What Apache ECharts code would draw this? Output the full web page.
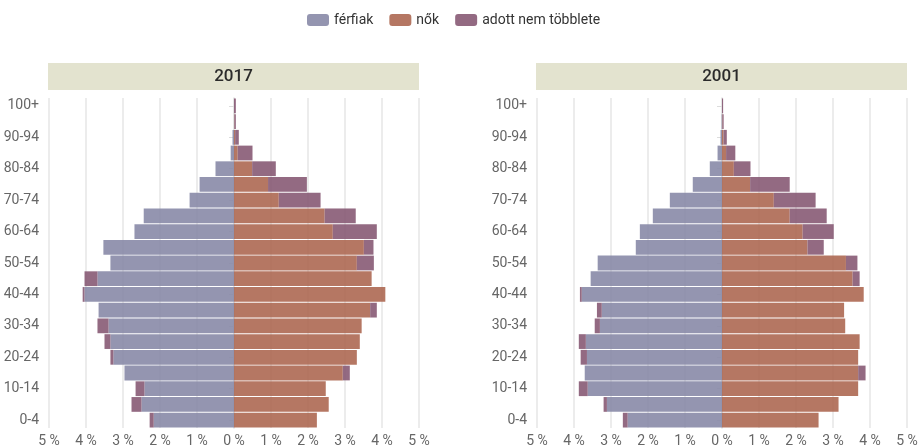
<!DOCTYPE html>
<html>
<head>
<meta charset="utf-8">
<script src="https://cdn.jsdelivr.net/npm/echarts@6/dist/echarts.min.js"></script>
<style>html,body{margin:0;padding:0;background:#fff}#c{width:922px;height:448px}</style>
</head>
<body>
<div id="c"></div>
<script>
// age groups, bottom to top
var ageGroups = ['0-4','5-9','10-14','15-19','20-24','25-29','30-34','35-39','40-44','45-49','50-54','55-59','60-64','65-69','70-74','75-79','80-84','85-89','90-94','95-99','100+'];
var xTicks = [-5,-4,-3,-2,-1,0,1,2,3,4,5];
var years = ['2017','2001'];

// 2017 (% of population)
var men2017        = [2.17,2.50,2.42,2.96,3.26,3.34,3.39,3.66,4.04,3.69,3.34,3.53,2.69,2.44,1.20,0.93,0.50,0.09,0.04,0.00,0.00];
var menExcess2017  = [0.11,0.27,0.24,0.00,0.08,0.16,0.30,0.00,0.05,0.35,0.00,0.00,0.00,0.00,0.00,0.00,0.00,0.00,0.00,0.00,0.00];
var women2017      = [2.24,2.56,2.48,2.94,3.32,3.40,3.45,3.68,4.09,3.72,3.32,3.51,2.67,2.45,1.21,0.92,0.49,0.10,0.03,0.01,0.00];
var womenExcess2017= [0.00,0.00,0.00,0.19,0.00,0.00,0.00,0.18,0.00,0.00,0.46,0.26,1.19,0.84,1.13,1.05,0.64,0.40,0.10,0.04,0.05];

// 2001 (% of population)
var men2001        = [2.55,3.11,3.63,3.71,3.65,3.68,3.30,3.25,3.79,3.55,3.36,2.33,2.22,1.87,1.41,0.79,0.33,0.12,0.04,0.01,0.00];
var menExcess2001  = [0.13,0.09,0.24,0.00,0.17,0.19,0.14,0.13,0.05,0.00,0.00,0.00,0.00,0.00,0.00,0.00,0.00,0.00,0.00,0.00,0.00];
var women2001      = [2.61,3.15,3.68,3.68,3.68,3.72,3.33,3.30,3.83,3.53,3.35,2.31,2.18,1.83,1.40,0.76,0.32,0.11,0.04,0.01,0.00];
var womenExcess2001= [0.00,0.00,0.00,0.20,0.00,0.00,0.00,0.00,0.00,0.19,0.31,0.44,0.84,1.00,1.13,1.07,0.45,0.25,0.09,0.035,0.03];

var panels = [
  {men: men2017, menEx: menExcess2017, women: women2017, womenEx: womenExcess2017, left: 49},
  {men: men2001, menEx: menExcess2001, women: women2001, womenEx: womenExcess2001, left: 537}
];

var C_MEN = '#888aa7', C_WOMEN = '#ad6852', C_EX = '#875a74';
var FONT = 'Roboto, "Noto Sans", sans-serif';

var grids = [], xAxes = [], yAxes = [], series = [], graphics = [];
panels.forEach(function (p, i) {
  grids.push({left: p.left, top: 98, width: 370, height: 333});
  xAxes.push({
    type: 'value', gridIndex: i, min: xTicks[0], max: xTicks[xTicks.length - 1], interval: 1,
    axisLine: {show: false}, axisTick: {show: false},
    splitLine: {show: true, lineStyle: {color: '#e6e6e6', width: 1.5}},
    axisLabel: {color: '#666', fontSize: 14, fontFamily: FONT, margin: 6,
      formatter: function (v) { return Math.abs(v) + ' %'; }}
  });
  yAxes.push({
    type: 'category', gridIndex: i, data: ageGroups,
    axisLine: {show: true, lineStyle: {color: '#e2e2e2', width: 1.5}},
    axisTick: {show: true, alignWithLabel: true, interval: 1, length: 5, lineStyle: {color: '#dcdcdc'}},
    axisLabel: {interval: 1, color: '#666', fontSize: 14, fontFamily: FONT, margin: 10, padding: [0, 0, 3, 0]},
    splitLine: {show: false}
  });
  var common = {type: 'bar', xAxisIndex: i, yAxisIndex: i, barGap: '-100%', barCategoryGap: '6%'};
  series.push(Object.assign({}, common, {name: 'férfiak', stack: 'L' + i,
    itemStyle: {color: C_MEN, opacity: 0.9}, data: p.men.map(function (v) { return -v; })}));
  series.push(Object.assign({}, common, {name: 'adott nem többlete', stack: 'L' + i,
    itemStyle: {color: C_EX, opacity: 0.9}, data: p.menEx.map(function (v) { return -v; })}));
  series.push(Object.assign({}, common, {name: 'nők', stack: 'R' + i,
    itemStyle: {color: C_WOMEN, opacity: 0.9}, data: p.women}));
  series.push(Object.assign({}, common, {name: 'adott nem többlete', stack: 'R' + i,
    itemStyle: {color: C_EX, opacity: 0.9}, data: p.womenEx}));
  graphics.push({
    type: 'group', left: p.left - 1, top: 63,
    children: [
      {type: 'rect', shape: {x: 0, y: 0, width: 371, height: 27}, style: {fill: '#e3e3cf'}},
      {type: 'text', x: 185.5, y: 13.5, style: {text: years[i], font: '500 17px ' + FONT, fill: '#2b2b2b', textAlign: 'center', textVerticalAlign: 'middle'}}
    ]
  });
});

var chart = echarts.init(document.getElementById('c'), null, {renderer: 'canvas'});
chart.setOption({
  animation: false,
  legend: {
    data: ['férfiak', 'nők', 'adott nem többlete'],
    left: 302, top: 8, itemWidth: 22, itemHeight: 12, itemGap: 16,
    icon: 'roundRect',
    textStyle: {color: '#333', fontSize: 14, fontFamily: FONT}
  },
  grid: grids, xAxis: xAxes, yAxis: yAxes, series: series, graphic: graphics
});
</script>
</body>
</html>
